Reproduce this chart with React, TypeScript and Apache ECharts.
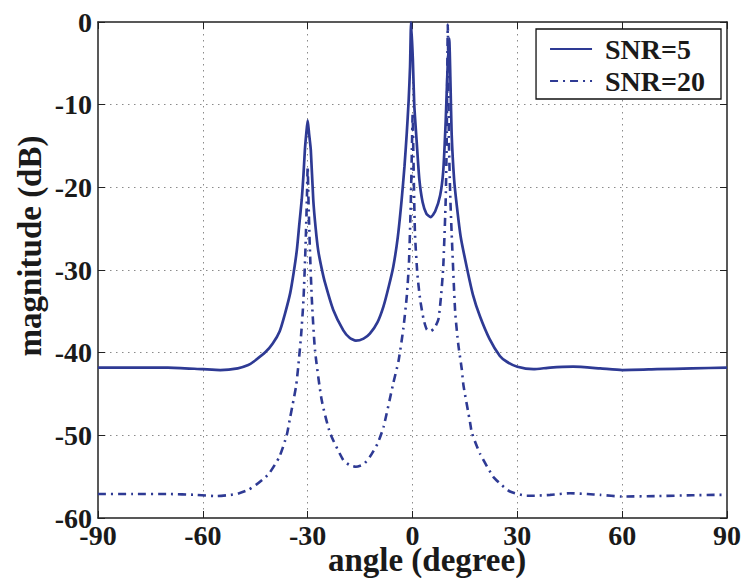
import React, { useEffect, useRef } from "react";
import * as echarts from "echarts";

// ---- data ----
const xTicks = [-90, -60, -30, 0, 30, 60, 90];
const yTicks = [-60, -50, -40, -30, -20, -10, 0];

const snr5Angles = [-90, -80, -70, -60, -55, -50, -47, -45.5, -42, -40, -38, -36.5, -35, -34, -33.1, -32.4, -31.7, -31.2, -30.8, -30.4, -30, -29.6, -29.1, -28.4, -27.7, -27, -26, -25, -22.7, -19.8, -18, -16.2, -14, -12.2, -10, -8.3, -6.8, -5.5, -4.2, -3.1, -2.3, -1.65, -1.1, -0.7, -0.4, 0.1, 0.5, 1.2, 1.95, 2.9, 4, 5.2, 6.5, 7.9, 8.8, 9.5, 10, 10.5, 10.9, 11.2, 11.9, 12.7, 13.8, 15.5, 17.3, 19.3, 22, 25, 27, 30, 34.6, 39.4, 46, 53.7, 60, 70, 80, 90];
const snr5Mag = [-41.8, -41.8, -41.8, -42.0, -42.1, -41.9, -41.5, -41.1, -39.9, -38.9, -37.4, -35.3, -32.8, -30.3, -27.6, -24.5, -21.5, -18.5, -15.5, -13.5, -11.9, -13.5, -15.5, -21.5, -25, -27.6, -29.8, -31.6, -34.8, -37.3, -38.2, -38.55, -38.3, -37.7, -36.3, -34.4, -32.0, -29.6, -26.0, -21.5, -17.5, -13.5, -9.5, -5.4, 0, -4.5, -10, -14.5, -19.0, -21.8, -23.2, -23.6, -22.9, -21, -18, -12, -6, -2, -8, -13.5, -19, -22.3, -26, -29.6, -33, -35.6, -38.3, -40.4, -41.1, -41.7, -42.0, -41.8, -41.7, -41.9, -42.1, -42.0, -41.9, -41.8];

const snr20Angles = [-90, -80, -70, -62, -56, -52, -49.6, -47, -44.8, -43, -41, -38.1, -36, -35, -34.3, -33.3, -32.7, -31.9, -31.2, -30.6, -30.2, -30, -29.8, -29.4, -28.8, -27.9, -26, -23.6, -19.8, -18, -16.2, -14, -12.2, -10, -8.3, -5.5, -4, -2.6, -1.6, -1, -0.5, -0.2, 0.05, 0.25, 0.7, 1.4, 2.2, 3.2, 4.1, 5.2, 6.3, 7.4, 8.2, 8.8, 9.5, 9.8, 10.1, 10.4, 10.8, 11.2, 12.2, 13.1, 14.1, 14.6, 16.5, 17, 19.3, 23.1, 25.5, 27.9, 32.7, 35, 39.4, 45.1, 50, 53.7, 60, 70, 80, 87, 90];
const snr20Mag = [-57.1, -57.1, -57.1, -57.2, -57.35, -57.2, -57.0, -56.6, -56.0, -55.4, -54.6, -52.6, -50, -47.8, -46.3, -44.0, -41.7, -38, -33.6, -27, -21, -17.5, -21, -27, -33.6, -39.7, -45.7, -49.7, -53.0, -53.6, -53.8, -53.5, -52.6, -51, -49.0, -43.7, -41.0, -37.0, -33, -29, -22, -16, -11, -16, -25.5, -30.5, -33.6, -36.0, -37.2, -37.4, -37.0, -36.0, -33, -29.6, -21.5, -14, -0.3, -14, -21, -25.5, -35, -39, -42, -44, -48.5, -49.7, -52.2, -55.0, -56.0, -56.8, -57.3, -57.3, -57.2, -57.0, -57.1, -57.2, -57.4, -57.35, -57.25, -57.2, -57.2];

const seriesNames = ["SNR=5", "SNR=20"];
const xName = "angle (degree)";
const yName = "magnitude (dB)";

const FONT = "'Liberation Serif', 'Times New Roman', serif";
const LINE_COLOR = "#2e3a94";
const AXIS_COLOR = "#222";

export default function App() {
  const ref = useRef<HTMLDivElement>(null);

  useEffect(() => {
    if (!ref.current) return;
    const chart = echarts.init(ref.current, undefined, { renderer: "svg" });

    const tickCommon = {
      show: true,
      inside: true,
      length: 7,
      lineStyle: { color: AXIS_COLOR, width: 1 },
    };
    const axisLineCommon = { show: true, onZero: false, lineStyle: { color: AXIS_COLOR, width: 1.5 } };
    const splitCommon = {
      show: true,
      showMinLine: false,
      showMaxLine: false,
      lineStyle: { color: "#8a8a8a", width: 1, type: [1.5, 4.5] as any },
    };
    const labelCommon = {
      fontFamily: FONT,
      fontWeight: "bold" as const,
      fontSize: 28,
      color: "#1a1a1a",
    };

    chart.setOption({
      animation: false,
      backgroundColor: "#fff",
      grid: {
        left: 98,
        right: 17,
        top: 22,
        bottom: 60,
        containLabel: false,
        outerBoundsMode: "none",
      },
      xAxis: [
        {
          type: "value",
          position: "bottom",
          min: xTicks[0],
          max: xTicks[xTicks.length - 1],
          interval: 30,
          axisLine: axisLineCommon,
          axisTick: tickCommon,
          axisLabel: { ...labelCommon, margin: 3 },
          splitLine: splitCommon,
        },
        {
          type: "value",
          position: "top",
          min: xTicks[0],
          max: xTicks[xTicks.length - 1],
          interval: 30,
          axisLine: axisLineCommon,
          axisTick: tickCommon,
          axisLabel: { show: false },
          splitLine: { show: false },
        },
      ],
      yAxis: [
        {
          type: "value",
          position: "left",
          min: yTicks[0],
          max: yTicks[yTicks.length - 1],
          interval: 10,
          axisLine: axisLineCommon,
          axisTick: tickCommon,
          axisLabel: { ...labelCommon, margin: 6 },
          splitLine: splitCommon,
        },
        {
          type: "value",
          position: "right",
          min: yTicks[0],
          max: yTicks[yTicks.length - 1],
          interval: 10,
          axisLine: axisLineCommon,
          axisTick: tickCommon,
          axisLabel: { show: false },
          splitLine: { show: false },
        },
      ],
      legend: {
        show: true,
        orient: "vertical",
        right: 23,
        top: 29,
        backgroundColor: "#fff",
        borderColor: "#111",
        borderWidth: 1.3,
        borderRadius: 0,
        padding: [6, 16, 4, 13],
        itemWidth: 42,
        itemHeight: 14,
        itemGap: 4,
        itemStyle: {
          color: "rgba(0,0,0,0)",
          borderColor: "rgba(0,0,0,0)",
          borderWidth: 0,
          opacity: 0,
        },
        textStyle: {
          fontFamily: FONT,
          fontWeight: "bold",
          fontSize: 28,
          color: "#1a1a1a",
          padding: [0, 0, 0, 8],
        },
        data: seriesNames,
      },
      graphic: [
        {
          type: "text",
          x: 427,
          y: 560,
          style: {
            text: xName,
            fontFamily: FONT,
            fontWeight: "bold",
            fontSize: 33,
            fill: "#1a1a1a",
            align: "center",
            verticalAlign: "middle",
          },
        },
        {
          type: "text",
          x: 30,
          y: 246,
          rotation: Math.PI / 2,
          style: {
            text: yName,
            fontFamily: FONT,
            fontWeight: "bold",
            fontSize: 33,
            fill: "#1a1a1a",
            align: "center",
            verticalAlign: "middle",
          },
        },
      ],
      series: [
        {
          name: seriesNames[0],
          type: "line",
          xAxisIndex: 0,
          yAxisIndex: 0,
          symbol: "none",
          smooth: 0.2,
          lineStyle: { color: LINE_COLOR, width: 2.7, type: "solid" },
          itemStyle: { color: LINE_COLOR },
          data: snr5Angles.map((a, i) => [a, snr5Mag[i]]),
          z: 3,
        },
        {
          name: seriesNames[1],
          type: "line",
          xAxisIndex: 0,
          yAxisIndex: 0,
          symbol: "none",
          smooth: 0.2,
          lineStyle: { color: LINE_COLOR, width: 2.6, type: [8, 5, 2, 5] },
          itemStyle: { color: LINE_COLOR },
          data: snr20Angles.map((a, i) => [a, snr20Mag[i]]),
          z: 2,
        },
      ],
    });

    return () => chart.dispose();
  }, []);

  return (
    <div
      ref={ref}
      style={{ position: "fixed", left: 0, top: 0, width: 744, height: 578, background: "#fff" }}
    />
  );
}
